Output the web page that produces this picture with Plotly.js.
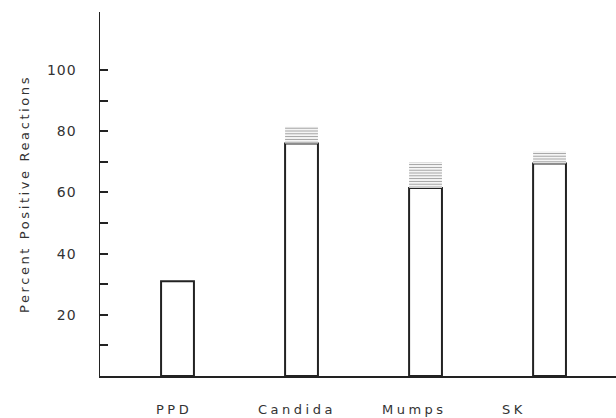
<!DOCTYPE html>
<html>
<head>
<meta charset="utf-8">
<script src="https://cdn.plot.ly/plotly-3.0.1.min.js"></script>
<style>
  html, body { margin: 0; padding: 0; background: #fff; }
  #chart { width: 616px; height: 418px; }
  .ytitle { letter-spacing: 2.6px; }
  .annotation-text { letter-spacing: 3.5px; }
  .ytick text { letter-spacing: 1px; }
</style>
</head>
<body>
<div id="chart"></div>
<script>
// Data
const categories = ["PPD", "Candida", "Mumps", "SK"];
const positiveReactions = [31, 76, 61.5, 69.5];   // solid open bars (%)
const upperRangeTop = [31, 81.5, 70, 73.5];       // top of hatched range (%)
const yTickValues = [10, 20, 30, 40, 50, 60, 70, 80, 90, 100];
const yTickLabels = ["", "20", "", "40", "", "60", "", "80", "", "100"];

const xPos = categories.map((c, i) => i);
const hatchHeights = upperRangeTop.map((t, i) => Math.max(0, t - positiveReactions[i]));

const solid = {
  type: "bar",
  x: xPos,
  y: positiveReactions,
  width: 0.265,
  marker: { color: "#ffffff", line: { color: "#222222", width: 2 } },
  hoverinfo: "skip"
};
const hatch = {
  type: "bar",
  x: xPos,
  y: hatchHeights,
  base: positiveReactions,
  width: 0.265,
  marker: {
    color: "#ffffff",
    line: { width: 0 },
    pattern: { shape: "-", fgcolor: "#a0a0a0", bgcolor: "#ffffff", size: 2.8, solidity: 0.4 }
  },
  hoverinfo: "skip"
};

const labelShift = [-4, -5, -11, -36];
const annotations = categories.map((c, i) => ({
  x: xPos[i], y: 0, xref: "x", yref: "y",
  yshift: -33, xshift: labelShift[i],
  text: c, showarrow: false,
  font: { family: "DejaVu Sans", size: 13, color: "#333" }
}));

const layout = {
  width: 616, height: 418,
  margin: { l: 100, r: 0, t: 12, b: 42 },
  paper_bgcolor: "#fff", plot_bgcolor: "#fff",
  showlegend: false,
  barmode: "overlay",
  xaxis: {
    range: [-0.625, 3.536],
    showgrid: false, zeroline: false,
    showline: true, linecolor: "#222", linewidth: 2,
    showticklabels: false, ticks: ""
  },
  yaxis: {
    range: [0, 119],
    showgrid: false, zeroline: false,
    showline: true, linecolor: "#222", linewidth: 1.5,
    ticks: "inside", ticklen: 8, tickwidth: 2, tickcolor: "#222",
    tickvals: yTickValues, ticktext: yTickLabels,
    ticklabelstandoff: 19,
    tickfont: { family: "DejaVu Sans", size: 14, color: "#333" },
    title: { text: "Percent Positive Reactions", standoff: 14,
             font: { family: "DejaVu Sans", size: 13, color: "#333" } }
  },
  annotations: annotations
};

Plotly.newPlot("chart", [solid, hatch], layout, { displayModeBar: false, staticPlot: true });
</script>
</body>
</html>
